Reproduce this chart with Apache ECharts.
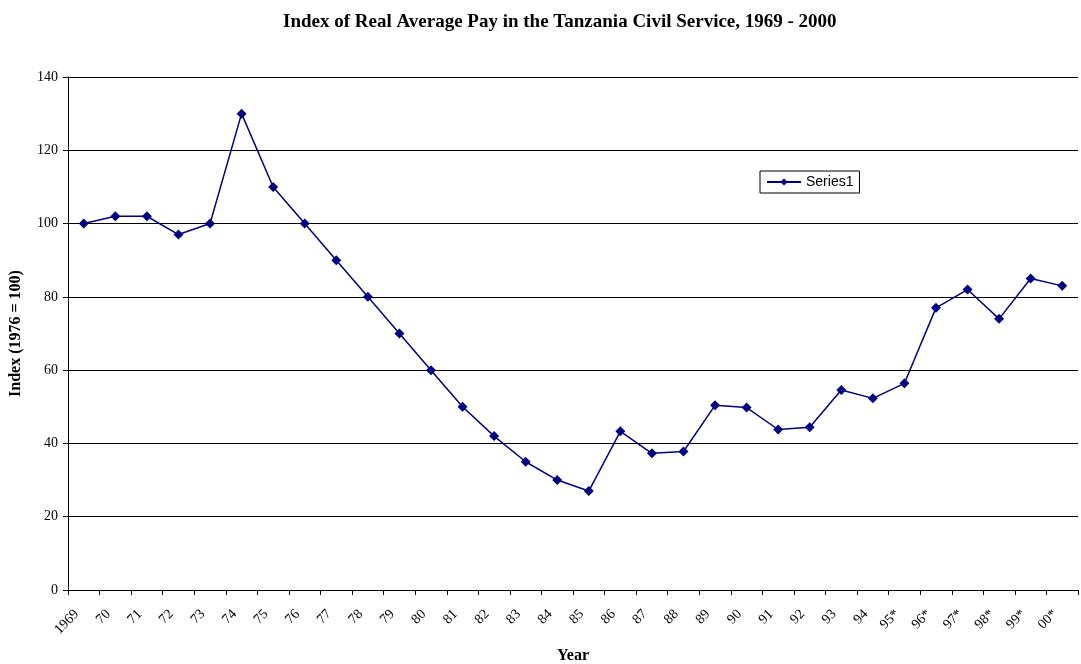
<!DOCTYPE html>
<html>
<head>
<meta charset="utf-8">
<script src="https://cdn.jsdelivr.net/npm/echarts@6/dist/echarts.min.js"></script>
<style>
  html, body { margin: 0; padding: 0; background: #fff; overflow: hidden; }
  #main { width: 1081px; height: 664px; }
</style>
</head>
<body>
<div id="main"></div>
<script>
// 年份（x轴）
var years = ['1969', '70', '71', '72', '73', '74', '75', '76', '77', '78', '79',
    '80', '81', '82', '83', '84', '85', '86', '87', '88', '89', '90', '91', '92',
    '93', '94', '95*', '96*', '97*', '98*', '99*', '00*'];
// 实际平均工资指数 (1976 = 100)
var series1 = [100, 102, 102, 97, 100, 130, 110, 100, 90, 80, 70,
    60, 50, 42, 35, 30, 27, 43.3, 37.3, 37.8, 50.4, 49.8, 43.8, 44.4,
    54.6, 52.3, 56.4, 77, 82, 74, 85, 83];
var yTicks = [0, 140, 20]; // min, max, interval

var chart = echarts.init(document.getElementById('main'));
var serif = '"Liberation Serif", "Times New Roman", serif';

var option = {
    backgroundColor: '#fff',
    animation: false,
    title: {
        text: 'Index of Real Average Pay in the Tanzania Civil Service, 1969 - 2000',
        left: 278,
        top: 8,
        textStyle: {fontFamily: serif, fontSize: 19, fontWeight: 'bold', color: '#000'}
    },
    legend: {
        data: ['Series1'],
        left: 760,
        top: 171,
        orient: 'vertical',
        borderColor: '#000',
        borderWidth: 1,
        padding: [4, 6, 4, 6],
        itemWidth: 34,
        itemHeight: 9,
        itemGap: 4,
        textStyle: {fontFamily: '"Liberation Sans", Arial, sans-serif', fontSize: 14, color: '#000'}
    },
    grid: {
        left: 68,
        right: 3,
        top: 77,
        bottom: 74,
        containLabel: false,
        outerBoundsMode: 'none'
    },
    xAxis: {
        type: 'category',
        data: years,
        boundaryGap: true,
        name: 'Year',
        nameLocation: 'middle',
        nameGap: 58,
        nameTextStyle: {fontFamily: serif, fontSize: 16, fontWeight: 'bold', color: '#000'},
        axisLine: {lineStyle: {color: '#000', width: 1}},
        axisTick: {show: true, length: 5, lineStyle: {color: '#000'}},
        axisLabel: {
            rotate: 45,
            margin: 15,
            padding: [0, 10, 0, 0],
            interval: 0,
            fontFamily: serif,
            fontSize: 14,
            color: '#000'
        },
        splitLine: {show: false}
    },
    yAxis: {
        type: 'value',
        min: yTicks[0],
        max: yTicks[1],
        interval: yTicks[2],
        name: 'Index (1976 = 100)',
        nameLocation: 'middle',
        nameGap: 44,
        nameRotate: 90,
        nameTextStyle: {fontFamily: serif, fontSize: 16, fontWeight: 'bold', color: '#000'},
        axisLine: {show: true, lineStyle: {color: '#000', width: 1}},
        axisTick: {show: true, length: 5, inside: false, lineStyle: {color: '#000'}},
        axisLabel: {fontFamily: serif, fontSize: 14, color: '#000', margin: 10},
        splitLine: {show: true, lineStyle: {color: '#000', width: 1}}
    },
    series: [
        {
            name: 'Series1',
            type: 'line',
            data: series1,
            symbol: 'diamond',
            symbolSize: 10,
            lineStyle: {color: '#000080', width: 1.5},
            itemStyle: {color: '#000080'}
        }
    ]
};

chart.setOption(option);
</script>
</body>
</html>
